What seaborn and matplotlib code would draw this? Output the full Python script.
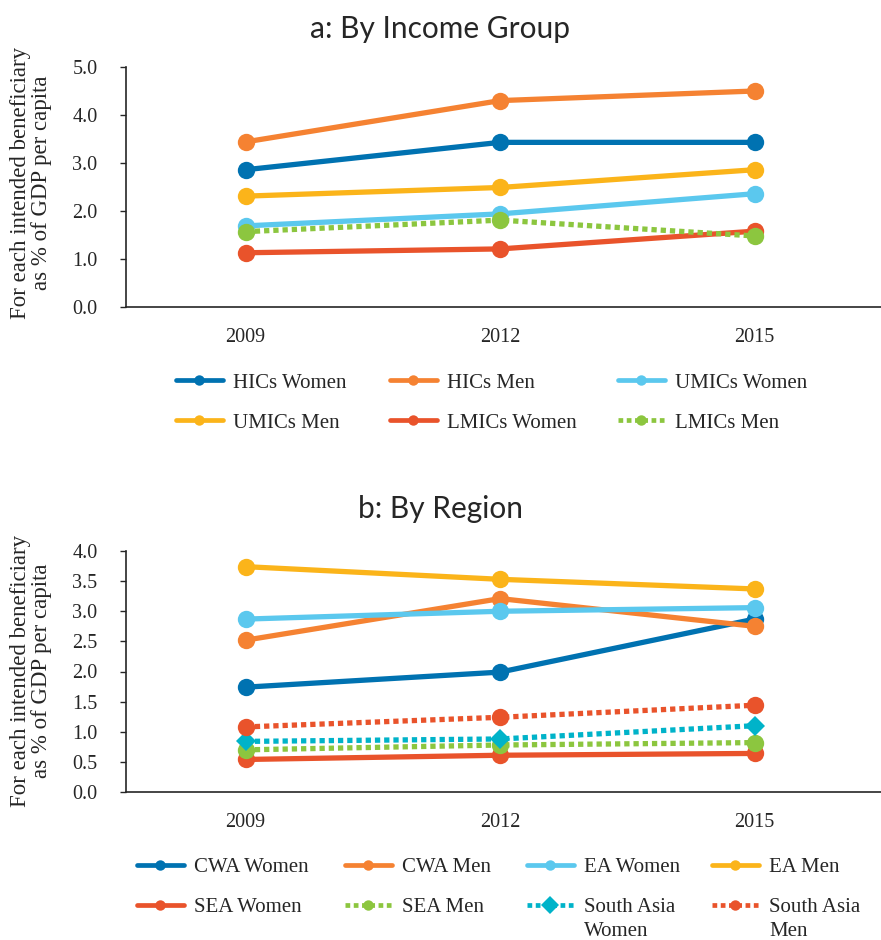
import matplotlib
matplotlib.use("Agg")
import matplotlib.pyplot as plt
import seaborn as sns
from matplotlib.lines import Line2D
from matplotlib.ticker import FormatStrFormatter, MultipleLocator

# ---------------- data ----------------
years = ["2009", "2012", "2015"]

income_labels = ["HICs Women", "HICs Men", "UMICs Women",
                 "UMICs Men", "LMICs Women", "LMICs Men"]
hics_women = [2.86, 3.43, 3.43]
hics_men = [3.44, 4.30, 4.50]
umics_women = [1.69, 1.94, 2.36]
umics_men = [2.31, 2.49, 2.86]
lmics_women = [1.13, 1.21, 1.58]
lmics_men = [1.57, 1.81, 1.48]
income_values = [hics_women, hics_men, umics_women, umics_men, lmics_women, lmics_men]

region_labels = ["CWA Women", "CWA Men", "EA Women", "EA Men",
                 "SEA Women", "SEA Men", "South Asia Women", "South Asia Men"]
cwa_women = [1.74, 1.99, 2.87]
cwa_men = [2.52, 3.21, 2.75]
ea_women = [2.87, 3.00, 3.06]
ea_men = [3.74, 3.53, 3.37]
sea_women = [0.54, 0.61, 0.64]
sea_men = [0.70, 0.78, 0.82]
sa_women = [0.84, 0.88, 1.10]
sa_men = [1.08, 1.24, 1.44]
region_values = [cwa_women, cwa_men, ea_women, ea_men, sea_women, sea_men, sa_women, sa_men]

# ---------------- styles ----------------
DBLUE = "#0072B1"
ORANGE = "#F58232"
LBLUE = "#5BC8EE"
YELLOW = "#FBB41A"
RED = "#E9532B"
GREEN = "#8CC63F"
TEAL = "#00B3C9"
DOT = (0, (1.0, 0.75))
INK = "#262626"

income_styles = [(DBLUE, "-", "o"), (ORANGE, "-", "o"), (LBLUE, "-", "o"),
                 (YELLOW, "-", "o"), (RED, "-", "o"), (GREEN, DOT, "o")]
region_styles = [(DBLUE, "-", "o"), (ORANGE, "-", "o"), (LBLUE, "-", "o"),
                 (YELLOW, "-", "o"), (RED, "-", "o"), (GREEN, DOT, "o"),
                 (TEAL, DOT, "D"), (RED, DOT, "o")]

sns.set_theme(style="white")
SERIF = ["Liberation Serif", "DejaVu Serif"]
plt.rcParams["font.family"] = SERIF

W, H = 881, 940
fig = plt.figure(figsize=(W / 100, H / 100), dpi=100)


def fx(px):
    return px / W


def fy(py):
    return 1 - py / H


AX_L = 126
X0 = -0.47
CAT = 254.5  # pixels per category
X1 = X0 + (W - AX_L) / CAT


def draw_panel(ax, values, styles, ymax, ystep):
    for vals, (c, ls, m) in zip(values, styles):
        sns.lineplot(x=years, y=vals, ax=ax, color=c, marker=m,
                     markersize=12.5 if m == "o" else 10, linewidth=3.8,
                     markeredgewidth=0, errorbar=None, legend=False)
        line = ax.lines[-1]
        line.set_linestyle(ls)
        line.set_dash_capstyle("butt")
    ax.set_xlim(X0, X1)
    ax.set_ylim(0, ymax)
    ax.yaxis.set_major_locator(MultipleLocator(ystep))
    ax.yaxis.set_major_formatter(FormatStrFormatter("%.1f"))
    ax.set_xlabel("")
    ax.set_ylabel("")
    for s in ["top", "right"]:
        ax.spines[s].set_visible(False)
    for s in ["left", "bottom"]:
        ax.spines[s].set_color(INK)
        ax.spines[s].set_linewidth(1.2)
        ax.spines[s].set_clip_on(False)
    ax.tick_params(axis="x", length=0, pad=15, labelsize=14.5, colors=INK)
    ax.tick_params(axis="y", left=True, length=4.5, width=1, pad=16,
                   labelsize=14.5, colors=INK)
    for t in ax.get_xticklabels() + ax.get_yticklabels():
        t.set_fontfamily(SERIF)


ax1 = fig.add_axes([fx(AX_L), fy(307), 1 - fx(AX_L), fy(67) - fy(307)])
draw_panel(ax1, income_values, income_styles, 5.0, 1.0)
ax2 = fig.add_axes([fx(AX_L), fy(792), 1 - fx(AX_L), fy(551) - fy(792)])
draw_panel(ax2, region_values, region_styles, 4.0, 0.5)

# titles
fig.text(0.5, fy(29), "a: By Income Group", ha="center", va="center",
         fontsize=21.5, family=["Lato", "DejaVu Sans"], color=INK)
fig.text(0.5, fy(509), "b: By Region", ha="center", va="center",
         fontsize=21.5, family=["Lato", "DejaVu Sans"], color=INK)

# y labels
ylab = "For each intended beneficiary\nas % of GDP per capita"
fig.text(fx(31), fy(183), ylab, rotation=90, ha="center", va="center",
         multialignment="center", fontsize=16.5, family=SERIF,
         color=INK, linespacing=1.05)
fig.text(fx(31), fy(671), ylab, rotation=90, ha="center", va="center",
         multialignment="center", fontsize=16.5, family=SERIF,
         color=INK, linespacing=1.05)

LEG_FS = 15


def handle(c, ls, m):
    return Line2D([], [], color=c, linestyle=ls, marker=m, linewidth=3.4,
                  markersize=7.5 if m == "o" else 9.5, markeredgewidth=0,
                  dash_capstyle="butt")


def entry(label, style, x, y):
    leg = fig.legend(handles=[handle(*style)], labels=[label], loc="center left",
                     bbox_to_anchor=(fx(x), fy(y)), frameon=False, borderpad=0,
                     borderaxespad=0, handlelength=2.25, handletextpad=0.5,
                     prop={"family": SERIF, "size": LEG_FS})
    for t in leg.get_texts():
        t.set_color(INK)
    return leg


# legend a
xa = [176, 390, 618]
ya = [383, 423]
for i, (lab, st) in enumerate(zip(income_labels, income_styles)):
    entry(lab, st, xa[i % 3], ya[i // 3])

# legend b
xb = [137, 345, 527, 712]
yb = [867, 907]
extra = []
for i, (lab, st) in enumerate(zip(region_labels, region_styles)):
    if lab.startswith("South Asia"):
        first, second = "South Asia", lab.split(" ")[-1]
        leg = entry(first, st, xb[i % 4], yb[i // 4])
        extra.append((leg, second))
    else:
        entry(lab, st, xb[i % 4], yb[i // 4])

fig.canvas.draw()
r = fig.canvas.get_renderer()
for leg, second in extra:
    bb = leg.get_texts()[0].get_window_extent(r)
    fig.text(bb.x0 / W, fy(931), second, ha="left", va="center",
             fontsize=LEG_FS, family=SERIF, color=INK)

fig.savefig("out.png", dpi=100, facecolor="white")
